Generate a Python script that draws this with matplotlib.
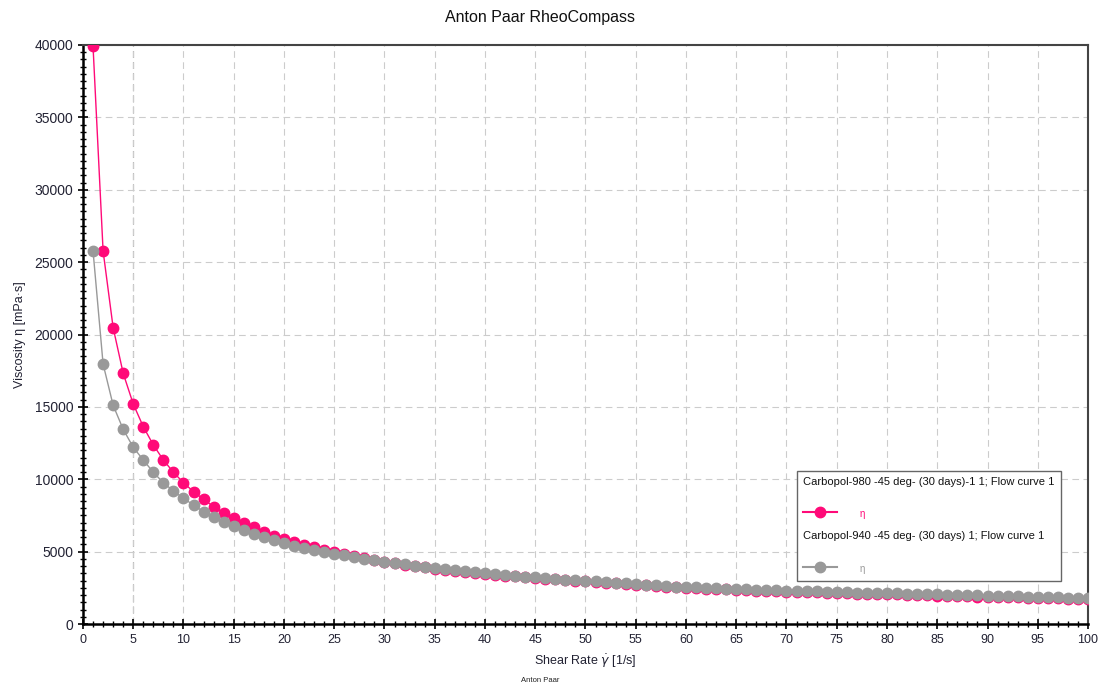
import matplotlib
matplotlib.use("Agg")
import matplotlib.pyplot as plt
from matplotlib.lines import Line2D
from matplotlib.patches import Rectangle
from matplotlib.ticker import MultipleLocator

plt.rcParams['font.family'] = ['Liberation Sans', 'DejaVu Sans']

# Datos
shear_rate = list(range(1, 101))

visc_980 = [39900, 25770, 20470, 17320, 15200, 13630, 12370, 11330, 10480, 9760,
            9140, 8620, 8100, 7690, 7350, 7000, 6680, 6380, 6100, 5870,
            5670, 5480, 5300, 5130, 4970, 4820, 4680, 4540, 4420, 4300,
            4190, 4090, 4000, 3910, 3820, 3750, 3680, 3610, 3540, 3470,
            3410, 3350, 3290, 3240, 3180, 3130, 3080, 3030, 2990, 2940,
            2900, 2860, 2810, 2770, 2720, 2680, 2640, 2590, 2550, 2510,
            2480, 2450, 2420, 2390, 2360, 2340, 2310, 2290, 2260, 2240,
            2220, 2200, 2180, 2160, 2140, 2120, 2100, 2090, 2070, 2050,
            2040, 2020, 2000, 1990, 1970, 1950, 1930, 1920, 1900, 1880,
            1870, 1850, 1840, 1820, 1810, 1790, 1770, 1750, 1730, 1710]

visc_940 = [25770, 17960, 15110, 13450, 12210, 11330, 10480, 9760, 9190, 8680,
            8220, 7760, 7420, 7070, 6770, 6490, 6220, 5990, 5800, 5620,
            5420, 5260, 5110, 4980, 4860, 4740, 4630, 4510, 4410, 4310,
            4210, 4120, 4030, 3940, 3850, 3780, 3710, 3640, 3570, 3500,
            3440, 3380, 3330, 3270, 3220, 3170, 3120, 3070, 3030, 2990,
            2940, 2900, 2850, 2810, 2760, 2720, 2680, 2630, 2590, 2550,
            2530, 2500, 2470, 2440, 2410, 2390, 2370, 2340, 2320, 2300,
            2280, 2260, 2250, 2230, 2210, 2190, 2170, 2160, 2140, 2120,
            2110, 2090, 2080, 2060, 2050, 2030, 2010, 1990, 1980, 1960,
            1940, 1930, 1910, 1900, 1890, 1860, 1840, 1820, 1800, 1780]

label_980 = "Carbopol-980 -45 deg- (30 days)-1 1; Flow curve 1"
label_940 = "Carbopol-940 -45 deg- (30 days) 1; Flow curve 1"

pink = "#ff0a78"
gray = "#999999"
txt = "#222233"

fig = plt.figure(figsize=(11.11, 6.89), dpi=100)
ax = fig.add_axes([0.0747, 0.0943, 0.9046, 0.8404])

ax.plot(shear_rate, visc_980, color=pink, lw=1, marker="o", ms=7.5, mec=pink, zorder=3)
ax.plot(shear_rate, visc_940, color=gray, lw=1, marker="o", ms=7.5, mec=gray, zorder=4)

ax.set_xlim(0, 100)
ax.set_ylim(0, 40000)
ax.xaxis.set_major_locator(MultipleLocator(5))
ax.xaxis.set_minor_locator(MultipleLocator(1))
ax.yaxis.set_major_locator(MultipleLocator(5000))
ax.yaxis.set_minor_locator(MultipleLocator(500))

ax.grid(True, which="major", ls=(0, (6, 4)), color="#cccccc", lw=0.8)
ax.axvline(5, ls=(0, (6, 4)), color="#777777", lw=0.8, zorder=1)

ax.tick_params(which="major", direction="inout", length=7, width=1.2, colors="black", labelcolor=txt)
ax.tick_params(which="minor", direction="inout", length=4, width=1, colors="black")
ax.tick_params(axis="x", pad=4, labelsize=9)
ax.tick_params(axis="y", labelsize=10)

for s in ["left", "bottom"]:
    ax.spines[s].set_linewidth(1.8)
    ax.spines[s].set_color("black")
for s in ["top", "right"]:
    ax.spines[s].set_linewidth(1.5)
    ax.spines[s].set_color("#444444")

ax.set_xlabel(r"Shear Rate $\dot{\gamma}$ [1/s]", fontsize=9, color=txt, labelpad=4)
ax.set_ylabel("Viscosity η [mPa·s]", fontsize=9, color=txt, labelpad=6)
fig.text(0.486, 0.975, "Anton Paar RheoCompass", ha="center", va="center", fontsize=11.5, color="#111111")
fig.text(0.486, 0.012, "Anton Paar", ha="center", va="center", fontsize=5.5, color="#222222")

# Leyenda dibujada a mano
tr = ax.transAxes
ax.add_patch(Rectangle((0.7104, 0.0743), 0.2627, 0.1899, transform=tr, fill=True,
                       facecolor="white", edgecolor="#666666", lw=1, zorder=6))
ax.text(0.7164, 0.2453, label_980, transform=tr, fontsize=8, va="center", ha="left", color="#111111", zorder=7)
ax.add_line(Line2D([0.7164, 0.750], [0.1934, 0.1934], transform=tr, color=pink, lw=1.5,
                   zorder=7))
ax.add_line(Line2D([0.733], [0.1934], transform=tr, color=pink, marker="o", ms=7.5, zorder=7))
ax.text(0.773, 0.190, "η", transform=tr, fontsize=7, va="center", ha="left", color=pink, zorder=7)
ax.text(0.7164, 0.152, label_940, transform=tr, fontsize=8, va="center", ha="left", color="#111111", zorder=7)
ax.add_line(Line2D([0.7164, 0.750], [0.0984, 0.0984], transform=tr, color=gray, lw=1.5,
                   zorder=7))
ax.add_line(Line2D([0.733], [0.0984], transform=tr, color=gray, marker="o", ms=7.5, zorder=7))
ax.text(0.773, 0.095, "η", transform=tr, fontsize=7, va="center", ha="left", color=gray, zorder=7)

fig.savefig("out.png", dpi=100)
